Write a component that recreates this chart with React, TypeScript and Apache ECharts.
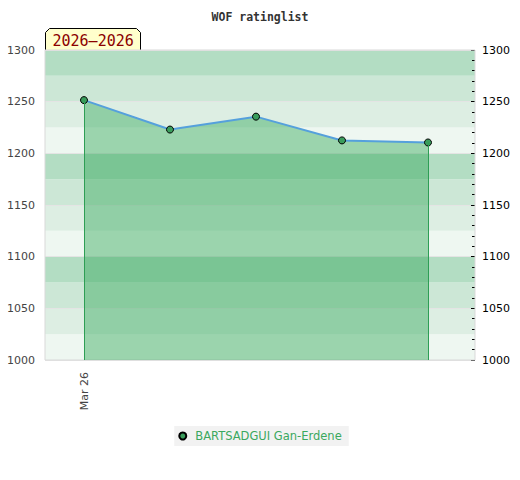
import React, { useEffect, useRef } from "react";
import * as echarts from "echarts";

const TITLE = "WOF ratinglist";
const TAG_LABEL = "2026–2026";
const SERIES_NAME = "BARTSADGUI Gan-Erdene";
const categories = ["Mar 26", "", "", "", ""];
const ratings = [1251.5, 1223, 1235.5, 1212.5, 1210.5];
const Y_MIN = 1000;
const Y_MAX = 1300;
const bandColors = ["#eef7f1", "#ddeee3", "#cce7d6", "#b3ddc3"];

export default function App() {
  const ref = useRef<HTMLDivElement>(null);
  useEffect(() => {
    const chart = echarts.init(ref.current!, undefined, { renderer: "svg" });
    const first = 0;
    const last = ratings.length - 1;
    chart.setOption({
      animation: false,
      title: {
        text: TITLE,
        left: "center",
        top: 6,
        textStyle: { fontFamily: "DejaVu Sans Mono", fontSize: 11.5, fontWeight: "bold", color: "#333" },
      },
      grid: [
        { left: 45, right: 45, top: 50, bottom: 120, show: true, borderColor: "#d9d9d9", borderWidth: 1, z: 3 },
        { left: 84, right: 92, top: 50, bottom: 120 },
      ],
      xAxis: [
        { gridIndex: 0, type: "value", min: 0, max: 1, show: false },
        {
          gridIndex: 1,
          type: "category",
          boundaryGap: false,
          data: categories,
          axisLine: { show: false },
          axisTick: { show: false },
          axisLabel: {
            interval: 0,
            rotate: 90,
            margin: 12,
            fontFamily: "DejaVu Sans",
            fontSize: 11,
            color: "#444",
          },
        },
      ],
      yAxis: [
        {
          gridIndex: 0,
          type: "value",
          position: "left",
          min: Y_MIN,
          max: Y_MAX,
          interval: 25,
          axisLine: { show: false },
          axisTick: { show: false },
          splitLine: { show: false },
          splitArea: { show: true, areaStyle: { color: bandColors } },
          axisLabel: {
            margin: 10,
            fontFamily: "DejaVu Sans",
            fontSize: 11,
            color: "#444",
            formatter: (v: number) => (v % 50 === 0 ? String(v) : ""),
          },
        },
        {
          gridIndex: 0,
          type: "value",
          position: "right",
          min: Y_MIN,
          max: Y_MAX,
          interval: 50,
          axisLine: { show: false },
          axisTick: { show: true, inside: true, length: 4, lineStyle: { color: "#000" } },
          minorTick: { show: true, splitNumber: 5, length: 3, lineStyle: { color: "#000" } },
          splitLine: { show: true, lineStyle: { color: "#e4e4e4", width: 1 } },
          axisLabel: {
            margin: 7,
            fontFamily: "DejaVu Sans",
            fontSize: 11,
            color: "#000",
            formatter: (v: number) => String(v),
          },
        },
        { gridIndex: 1, type: "value", min: Y_MIN, max: Y_MAX, show: false },
      ],
      legend: {
        bottom: 34,
        left: "center",
        backgroundColor: "#f2f2f2",
        padding: [4, 7, 4, 4],
        itemWidth: 15,
        itemHeight: 7,
        itemGap: 8,
        icon: "circle",
        symbolKeepAspect: true,
        textStyle: { fontFamily: "DejaVu Sans", fontSize: 11.5, color: "#3aa85e" },
        data: [SERIES_NAME],
      },
      graphic: [
        {
          type: "group",
          left: 45,
          top: 28,
          z: 10,
          children: [
            {
              type: "polygon",
              shape: {
                points: [
                  [0, 22],
                  [0, 4],
                  [4, 0],
                  [91, 0],
                  [95, 4],
                  [95, 22],
                ],
              },
              style: { fill: "#ffffcc", stroke: "#000", lineWidth: 1 },
            },
            {
              type: "text",
              x: 7,
              y: 12,
              style: {
                text: TAG_LABEL,
                fontFamily: "DejaVu Sans Mono",
                fontSize: 15,
                fill: "#8b0000",
                verticalAlign: "middle",
              },
            },
          ],
        },
      ],
      series: [
        {
          name: SERIES_NAME,
          type: "line",
          xAxisIndex: 1,
          yAxisIndex: 2,
          data: ratings,
          symbol: "circle",
          symbolSize: 7,
          showSymbol: true,
          lineStyle: { color: "#55a0dc", width: 2 },
          itemStyle: { color: "#3a9d5c", borderColor: "#000", borderWidth: 1 },
          areaStyle: { color: "rgb(54,168,90)", opacity: 0.45, origin: "start" },
          z: 4,
          markLine: {
            silent: true,
            symbol: "none",
            label: { show: false },
            lineStyle: { color: "#2e9e55", width: 1, type: "solid" },
            data: [
              [
                { coord: [first, ratings[first]] },
                { coord: [first, Y_MIN] },
              ],
              [
                { coord: [last, ratings[last]] },
                { coord: [last, Y_MIN] },
              ],
            ],
          },
        },
      ],
    });
    return () => chart.dispose();
  }, []);
  return (
    <div
      ref={ref}
      style={{ position: "absolute", left: 0, top: 0, width: 520, height: 480 }}
    />
  );
}
